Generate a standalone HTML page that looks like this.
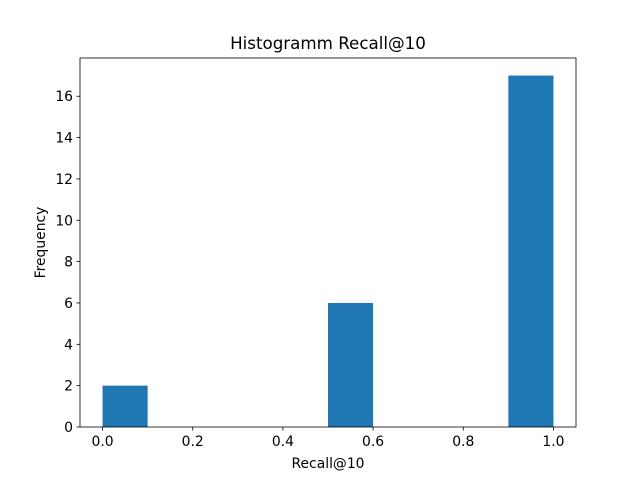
<!DOCTYPE html>
<html><head><meta charset="utf-8"><style>
body{margin:0;background:#fff;font-family:"Liberation Sans","DejaVu Sans",sans-serif;}
</style></head><body>
<svg id="chart" width="640" height="480" xmlns="http://www.w3.org/2000/svg" font-family="DejaVu Sans, Liberation Sans, sans-serif">
<rect width="640" height="480" fill="#fff"/>
<g id="bars"></g>
<g id="axes"></g>
<text x="328" y="49" text-anchor="middle" font-size="16.7">Histogramm Recall@10</text>
<text x="328" y="468" text-anchor="middle" font-size="13.9">Recall@10</text>
<text transform="translate(45,242.5) rotate(-90)" text-anchor="middle" font-size="13.9">Frequency</text>
</svg>
<script>
const binEdges = [0,0.1,0.2,0.3,0.4,0.5,0.6,0.7,0.8,0.9,1.0];
const counts = [2,0,0,0,0,6,0,0,0,17];
const xTicks = [0,0.2,0.4,0.6,0.8,1.0];
const xTickLabels = ["0.0","0.2","0.4","0.6","0.8","1.0"];
const yTicks = [0,2,4,6,8,10,12,14,16];
const yTickLabels = ["0","2","4","6","8","10","12","14","16"];

const L=80,R=576,T=58,B=427;
const xmin=-0.05,xmax=1.05,ymin=0,ymax=Math.max(...counts)*1.05;
const sx=v=>L+(v-xmin)/(xmax-xmin)*(R-L);
const sy=v=>B-(v-ymin)/(ymax-ymin)*(B-T);
const NS="http://www.w3.org/2000/svg";
const bars=document.getElementById('bars'), axes=document.getElementById('axes');
function mk(tag,attrs,parent){const e=document.createElementNS(NS,tag);for(const k in attrs)e.setAttribute(k,attrs[k]);parent.appendChild(e);return e;}
counts.forEach((c,i)=>{
  if(c<=0)return;
  const r=mk('rect',{x:sx(binEdges[i]),y:sy(c),width:sx(binEdges[i+1])-sx(binEdges[i]),height:sy(0)-sy(c),fill:'#1f77b4'},bars);
  
  
});
const frame=mk('rect',{x:L,y:T,width:R-L,height:B-T,fill:'none',stroke:'#000','stroke-width':0.8},axes);


xTicks.forEach((v,i)=>{
  const x=sx(v);
  const t=mk('line',{x1:x,x2:x,y1:B,y2:B+3.5,stroke:'#000','stroke-width':0.8},axes);
  
  
  const l=mk('text',{x:x,y:B+19,'text-anchor':'middle','font-size':13.9},axes);
  l.textContent=xTickLabels[i];
  
  
});
yTicks.forEach((v,i)=>{
  const y=sy(v);
  const t=mk('line',{x1:L-3.5,x2:L,y1:y,y2:y,stroke:'#000','stroke-width':0.8},axes);
  
  
  const l=mk('text',{x:L-7,y:y+5,'text-anchor':'end','font-size':13.9},axes);
  l.textContent=yTickLabels[i];
  
  
});
</script>
</body></html>
